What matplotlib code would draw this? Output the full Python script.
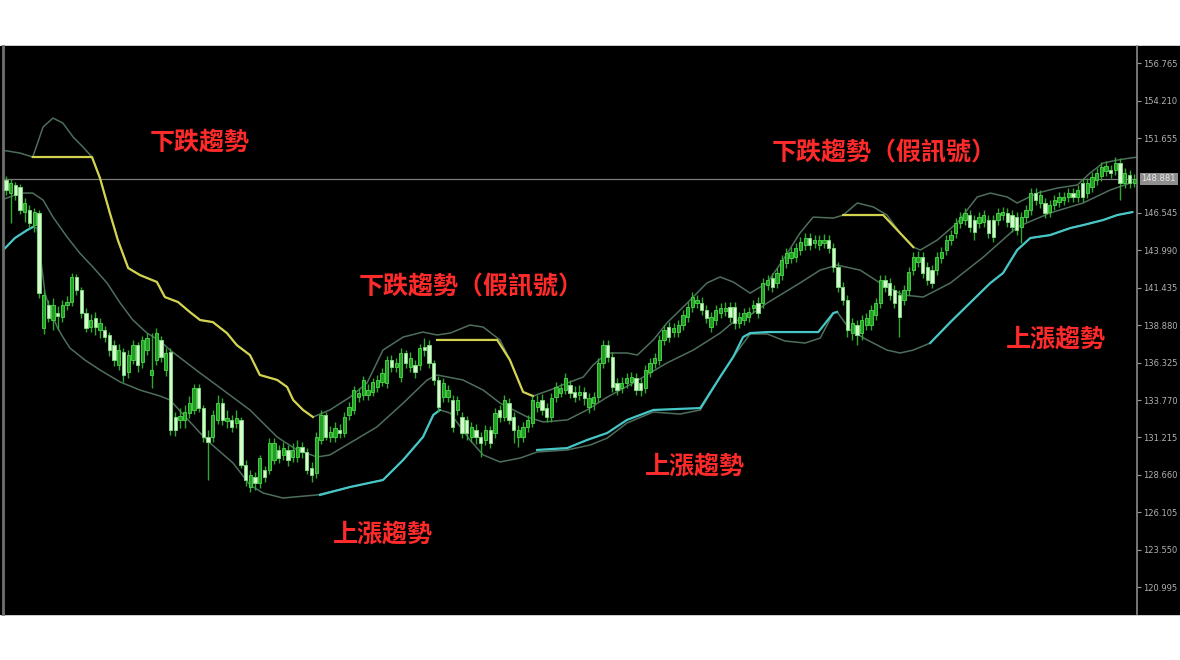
import numpy as np
import matplotlib.pyplot as plt
from matplotlib.patches import Rectangle

# daily candles (price units)
opens = [148.79, 147.90, 148.45, 148.31, 146.60, 146.74, 145.71, 146.53, 138.69, 140.25,
         139.23, 139.71, 139.43, 140.25, 140.46, 142.17, 141.28, 139.71, 138.76, 139.37,
         138.55, 138.55, 138.21, 137.52, 136.16, 137.05, 135.68, 136.50, 137.52, 136.36,
         137.18, 135.48, 136.50, 137.87, 135.82, 137.05, 132.61, 132.41, 132.41, 132.88,
         133.09, 134.59, 133.22, 131.24, 131.24, 132.41, 133.56, 132.34, 132.41, 132.20,
         132.41, 129.33, 127.83, 128.51, 128.10, 128.99, 128.99, 129.68, 130.36, 130.02,
         130.36, 129.88, 129.88, 130.56, 130.22, 129.13, 128.79, 131.04, 132.75, 131.24,
         131.24, 131.72, 131.52, 132.75, 133.09, 133.97, 134.11, 134.11, 134.32, 134.66,
         135.00, 134.93, 136.50, 136.02, 135.34, 136.98, 136.02, 136.16, 136.16, 137.39,
         137.52, 136.30, 135.14, 133.97, 133.97, 133.77, 133.09, 132.61, 132.41, 131.24,
         131.72, 131.24, 131.04, 131.72, 131.52, 133.09, 132.61, 133.56, 132.61, 131.24,
         131.24, 131.93, 132.20, 133.29, 133.77, 133.22, 132.61, 133.97, 134.25, 134.45,
         134.80, 134.32, 134.11, 134.32, 133.29, 133.56, 133.97, 136.30, 137.52, 136.70,
         134.93, 134.59, 134.93, 135.00, 135.27, 134.93, 134.59, 135.68, 136.30, 136.50,
         137.87, 138.76, 138.41, 138.41, 138.89, 139.43, 140.12, 140.39, 140.39, 139.91,
         138.76, 139.23, 139.71, 139.84, 140.12, 140.12, 139.03, 139.23, 139.43, 140.05,
         140.39, 140.39, 141.62, 142.10, 141.75, 142.30, 143.12, 143.46, 143.53, 144.01,
         144.35, 144.83, 144.49, 144.35, 144.49, 144.69, 144.15, 142.85, 141.48, 140.60,
         138.34, 138.89, 138.34, 138.89, 138.89, 139.57, 140.39, 141.96, 141.75, 141.28,
         140.94, 140.60, 141.28, 142.64, 143.19, 143.53, 142.85, 142.64, 142.64, 143.46,
         144.01, 144.69, 145.17, 145.85, 146.06, 146.40, 146.06, 145.85, 145.92, 146.06,
         146.06, 146.06, 146.40, 146.53, 146.40, 146.26, 145.58, 146.26, 146.74, 147.90,
         147.22, 147.22, 146.60, 147.08, 147.28, 147.42, 147.63, 147.90, 147.63, 148.58,
         147.90, 148.31, 148.79, 149.06, 149.40, 149.47, 149.47, 149.94, 148.58, 149.13,
         148.58]
highs = [149.06, 148.85, 148.65, 148.52, 147.56, 147.08, 146.88, 146.74, 141.28, 140.60,
         140.73, 140.19, 140.60, 140.87, 142.44, 142.37, 141.48, 140.05, 139.64, 139.78,
         139.37, 138.82, 138.41, 137.87, 137.59, 137.32, 137.18, 137.87, 137.73, 138.14,
         138.34, 138.34, 138.69, 138.14, 137.32, 137.32, 132.95, 133.22, 133.43, 134.04,
         134.86, 134.86, 133.43, 131.72, 133.09, 134.11, 133.90, 133.09, 132.75, 133.09,
         132.61, 129.68, 128.99, 128.86, 130.02, 129.27, 131.17, 131.17, 130.70, 130.90,
         130.70, 130.84, 131.04, 130.90, 130.50, 129.54, 131.58, 133.09, 132.95, 132.00,
         132.27, 132.13, 132.95, 133.63, 134.73, 134.59, 135.41, 134.86, 135.27, 135.48,
         135.95, 136.77, 136.84, 136.63, 137.32, 137.18, 137.05, 136.50, 137.59, 138.00,
         137.87, 136.50, 135.41, 135.27, 134.80, 134.11, 134.04, 132.95, 132.68, 132.27,
         132.13, 131.58, 132.07, 132.00, 133.22, 133.43, 134.11, 133.90, 132.95, 132.07,
         132.27, 132.75, 134.04, 134.11, 134.18, 133.56, 134.25, 135.00, 134.93, 135.61,
         135.14, 134.73, 134.80, 134.66, 134.25, 134.32, 136.63, 137.87, 137.87, 137.05,
         135.27, 135.34, 135.61, 135.68, 135.61, 135.27, 136.16, 136.63, 136.98, 138.21,
         138.89, 139.09, 139.03, 139.23, 139.91, 140.46, 141.14, 140.94, 140.80, 140.25,
         139.78, 140.25, 140.39, 140.46, 140.46, 140.46, 139.78, 140.05, 140.12, 140.60,
         140.80, 142.10, 142.30, 142.44, 142.78, 143.67, 144.15, 144.21, 144.49, 144.90,
         145.17, 145.17, 145.03, 145.03, 145.10, 145.03, 144.49, 143.19, 141.82, 140.94,
         139.37, 139.23, 139.57, 139.71, 140.25, 140.73, 142.30, 142.30, 142.10, 141.62,
         141.28, 141.62, 142.85, 143.87, 143.94, 143.87, 143.19, 142.98, 143.87, 144.21,
         145.03, 145.37, 146.19, 146.60, 146.88, 146.74, 146.40, 146.60, 146.74, 146.40,
         146.40, 146.88, 146.94, 146.88, 146.74, 146.60, 146.60, 147.08, 148.24, 148.24,
         148.11, 147.56, 147.42, 147.76, 147.97, 147.97, 148.24, 148.24, 148.45, 148.92,
         148.92, 149.33, 149.60, 150.01, 150.08, 149.81, 150.35, 150.28, 149.60, 149.47,
         149.20]
lows = [147.76, 145.85, 147.42, 146.47, 145.92, 145.51, 145.24, 140.73, 138.28, 139.09,
        138.55, 138.55, 139.09, 139.91, 140.19, 140.94, 139.37, 138.41, 138.41, 138.21,
        138.00, 137.73, 136.77, 136.09, 135.82, 135.00, 135.27, 136.23, 135.68, 135.95,
        136.84, 134.59, 136.16, 136.36, 135.41, 131.38, 131.31, 131.86, 131.86, 132.54,
        132.81, 132.95, 130.90, 128.31, 130.90, 132.13, 132.07, 131.86, 131.58, 131.86,
        129.13, 127.90, 127.49, 127.63, 127.76, 128.17, 128.72, 129.40, 129.47, 129.68,
        129.27, 129.54, 129.54, 129.81, 128.72, 128.17, 128.45, 130.77, 131.04, 130.90,
        130.90, 131.17, 131.24, 132.41, 132.81, 133.63, 133.77, 133.77, 134.04, 134.32,
        134.73, 134.59, 135.68, 135.68, 135.00, 135.95, 135.68, 135.27, 135.82, 136.77,
        135.95, 134.80, 132.95, 133.63, 133.63, 131.58, 132.75, 131.17, 131.04, 130.90,
        130.77, 129.88, 130.70, 130.50, 131.17, 132.27, 132.34, 132.13, 130.84, 130.56,
        130.90, 131.58, 131.93, 132.95, 132.75, 132.27, 132.27, 133.63, 133.97, 134.18,
        133.90, 133.63, 133.77, 133.43, 132.88, 133.09, 133.63, 135.95, 136.36, 134.32,
        134.11, 134.25, 134.59, 134.73, 134.11, 134.04, 134.25, 135.34, 135.95, 136.16,
        137.52, 137.73, 138.07, 138.07, 138.55, 139.09, 139.78, 140.05, 139.57, 139.03,
        138.41, 138.89, 139.37, 139.50, 139.09, 138.62, 138.69, 138.89, 139.09, 139.71,
        139.37, 140.05, 141.28, 141.14, 141.41, 141.96, 142.78, 143.12, 143.19, 143.67,
        144.01, 144.01, 144.15, 144.01, 144.15, 143.80, 142.51, 141.14, 140.25, 138.07,
        137.87, 137.52, 137.87, 138.55, 138.55, 139.23, 140.05, 141.14, 140.60, 140.05,
        138.07, 140.25, 140.94, 142.30, 142.85, 142.10, 141.62, 141.41, 142.30, 143.12,
        143.67, 144.35, 144.83, 145.51, 145.71, 145.24, 144.69, 145.51, 145.58, 144.83,
        144.56, 145.71, 146.06, 145.58, 145.24, 145.03, 144.49, 145.92, 146.40, 147.08,
        146.88, 146.19, 146.26, 146.74, 146.94, 147.08, 147.28, 147.28, 147.28, 147.28,
        147.56, 147.97, 148.45, 148.72, 149.06, 148.92, 149.13, 147.42, 148.24, 148.24,
        148.31]
closes = [148.11, 148.58, 147.76, 146.74, 147.22, 145.85, 146.60, 141.07, 140.94, 139.37,
          140.25, 139.50, 140.25, 140.46, 142.17, 141.28, 139.71, 138.69, 139.23, 138.76,
          139.03, 138.07, 137.18, 136.50, 137.18, 135.48, 136.84, 137.52, 136.16, 137.87,
          138.00, 135.82, 138.34, 136.70, 136.98, 131.72, 131.72, 132.68, 132.95, 133.56,
          134.59, 133.22, 131.24, 130.90, 132.75, 133.56, 132.41, 132.54, 131.93, 132.54,
          129.33, 128.31, 128.65, 128.10, 129.81, 128.51, 130.84, 130.84, 129.81, 130.50,
          129.68, 130.36, 130.56, 130.22, 128.99, 128.65, 131.24, 132.75, 131.24, 131.58,
          131.86, 131.52, 132.61, 133.29, 134.45, 134.25, 135.14, 134.45, 135.00, 135.14,
          135.61, 136.50, 136.02, 136.30, 136.98, 136.30, 136.63, 135.68, 137.32, 137.18,
          136.30, 135.14, 133.29, 134.93, 134.45, 131.93, 133.77, 131.52, 131.52, 131.93,
          131.24, 130.84, 131.72, 130.84, 132.88, 132.61, 133.77, 132.41, 131.72, 131.72,
          131.93, 132.41, 133.77, 133.63, 133.09, 132.61, 133.90, 134.66, 134.59, 135.27,
          134.25, 133.97, 134.32, 133.90, 133.90, 133.97, 136.30, 137.52, 136.70, 134.66,
          134.45, 134.93, 135.27, 135.34, 134.45, 134.45, 135.82, 136.30, 136.63, 137.87,
          138.55, 138.07, 138.69, 138.89, 139.57, 140.12, 140.80, 140.60, 139.91, 139.37,
          139.43, 139.91, 140.05, 140.05, 139.43, 139.03, 139.43, 139.71, 139.78, 140.25,
          139.71, 141.75, 141.96, 141.48, 142.44, 143.33, 143.80, 143.87, 144.15, 144.56,
          144.83, 144.35, 144.69, 144.69, 144.69, 144.15, 142.85, 141.48, 140.60, 138.55,
          139.03, 138.21, 139.23, 139.37, 139.91, 140.39, 141.96, 141.48, 140.94, 140.39,
          139.43, 141.28, 142.51, 143.53, 143.53, 142.44, 141.96, 141.75, 143.53, 143.87,
          144.69, 145.03, 145.85, 146.26, 146.53, 145.58, 145.24, 146.26, 146.40, 145.17,
          144.90, 146.53, 146.60, 145.92, 145.58, 145.37, 146.26, 146.74, 147.90, 147.42,
          147.76, 146.53, 147.08, 147.42, 147.63, 147.63, 147.90, 147.63, 148.11, 147.63,
          148.58, 148.99, 149.26, 149.67, 149.74, 149.26, 149.94, 148.58, 149.26, 148.58,
          148.88]

# bollinger bands as (bar, price)
upper_band = [(-1, 150.84), (3, 150.63), (5.7, 150.36), (7.9, 152.41), (10, 153.02), (12.1, 152.68),
              (14.3, 151.72), (16.4, 151.04), (18.3, 150.36), (20, 148.92), (22.1, 146.54), (23.8, 144.69),
              (26, 142.78), (28.5, 142.30), (32.1, 141.83), (33.8, 140.80), (36.6, 140.46), (39.1, 139.78),
              (41.3, 139.23), (44, 139.09), (47, 138.34), (49.1, 137.52), (51.9, 136.84), (54, 135.48),
              (57.7, 135.14), (59.8, 134.66), (61.1, 133.77), (63.2, 133.09), (65.3, 132.61), (68.9, 133.09),
              (73.2, 133.97), (76.8, 134.93), (80.2, 137.18), (84.5, 138.07), (88.7, 138.41), (91.7, 138.21),
              (94.5, 138.34), (98.7, 138.89), (101.5, 138.75), (105.1, 137.87), (107.2, 136.50), (110, 134.32),
              (112.1, 134.04), (115.7, 134.45), (119.4, 134.93), (122.8, 135.34), (124.9, 136.16), (127.9, 136.98),
              (132.1, 136.98), (134.3, 136.84), (137.7, 137.87), (140.6, 139.03), (144.9, 140.39), (149.1, 141.76),
              (151.9, 142.17), (154.7, 141.83), (158.3, 141.07), (161.9, 141.76), (165.3, 143.33), (168.9, 145.17),
              (171.7, 146.26), (176, 146.19), (178.1, 146.40), (181.1, 147.22), (184.5, 146.95), (187.4, 146.40),
              (190.2, 145.17), (193, 144.21), (194.5, 144.01), (198.1, 144.69), (202.3, 145.85), (206.6, 147.63),
              (209.4, 147.90), (213, 147.63), (215.1, 147.22), (219.4, 147.90), (223.6, 148.24), (227.9, 148.45),
              (230.6, 149.27), (233.4, 149.95), (236.4, 150.15), (239.1, 150.29), (240.6, 150.35)]
middle_band = [(-1, 147.42), (3, 147.90), (5.7, 147.90), (7.9, 147.42), (10, 146.26), (13, 144.90),
               (15.7, 143.80), (18.5, 142.85), (21.5, 141.76), (24.3, 140.39), (27, 139.23), (30, 138.34),
               (32.8, 137.80), (34.9, 137.18), (41.3, 135.61), (46.2, 134.45), (51.9, 133.09), (57.7, 131.24),
               (61.9, 130.36), (66.2, 129.88), (68.9, 130.02), (73.2, 130.84), (78.9, 131.93), (84.5, 133.56),
               (89.6, 135.14), (91.7, 135.48), (97.2, 135.14), (101.5, 134.45), (105.1, 133.56), (110.9, 132.61),
               (114.3, 132.27), (119.4, 132.41), (123.6, 133.09), (127.9, 133.97), (133.4, 134.93), (140.6, 136.30),
               (146.2, 137.18), (151.9, 138.34), (154.7, 139.09), (158.3, 139.57), (161.9, 140.39), (168.9, 141.76),
               (173.2, 142.64), (176.8, 142.98), (181.7, 142.64), (186.6, 141.62), (190.9, 140.94), (195.1, 140.80),
               (200.9, 141.76), (207.9, 143.53), (215.1, 145.58), (222.1, 146.54), (229.1, 147.22), (234.9, 148.11),
               (239.1, 148.58), (240.6, 148.70)]
lower_band = [(-1, 143.87), (1.9, 144.83), (4.5, 145.37), (5.7, 145.58), (6.6, 145.51), (7.7, 142.64),
              (8.3, 141.07), (9.4, 139.91), (10.9, 138.75), (12.1, 138.07), (13.6, 137.32), (16.8, 136.50),
              (20, 135.82), (24.3, 135.00), (28.5, 134.45), (32.8, 134.04), (34.9, 133.77), (41.3, 131.52),
              (43.4, 130.84), (48.3, 129.47), (51.9, 127.97), (54.7, 127.42), (58.9, 127.08), (66.2, 127.29),
              (73.2, 127.83), (80.2, 128.31), (84.5, 129.68), (88.7, 131.24), (90.9, 132.75), (92.3, 133.09),
              (94.5, 132.88), (98.7, 131.04), (101.5, 130.02), (105.1, 129.54), (109.4, 129.81), (113, 130.22),
              (119.4, 130.36), (124.3, 130.70), (127.9, 131.17), (132.1, 132.20), (137.7, 132.95), (143.4, 132.81),
              (147.7, 133.09), (151.9, 135.34), (154.7, 136.71), (158.3, 138.28), (161.9, 138.28), (165.7, 137.80),
              (170, 137.66), (173.2, 138.00), (176, 139.71), (176.8, 139.78), (179.6, 138.55), (183.2, 137.87),
              (187.4, 137.18), (190.2, 136.98), (193, 137.18), (196.6, 137.66), (200.9, 139.09), (205.7, 140.60),
              (209.4, 141.76), (212.1, 142.44), (215.1, 144.01), (217.9, 144.83), (222.1, 145.03), (226.4, 145.51),
              (229.1, 145.71), (233.4, 146.06), (236.4, 146.40), (239.6, 146.60)]

# band-stop lines: yellow while falling, cyan while rising
stop_down = [
    [(5.7, 150.36), (18.3, 150.36), (20, 148.92), (22.1, 146.54), (23.8, 144.69), (26, 142.78), (28.5, 142.30),
     (32.1, 141.83), (33.8, 140.80), (36.6, 140.46), (39.1, 139.78), (41.3, 139.23), (44, 139.09), (47, 138.34),
     (49.1, 137.52), (51.9, 136.84), (54, 135.48), (57.7, 135.14), (59.8, 134.66), (61.1, 133.77), (63.2, 133.09),
     (65.3, 132.61)],
    [(91.7, 137.87), (104.5, 137.87), (107.2, 136.50), (110, 134.32), (112.1, 134.04)],
    [(178.1, 146.40), (186.6, 146.40), (190.2, 145.17), (193, 144.21)],
]
stop_up = [
    [(-1, 143.87), (1.9, 144.83), (4.5, 145.37), (5.7, 145.58)],
    [(66.8, 127.29), (73.2, 127.83), (80.2, 128.31), (84.5, 129.68), (88.7, 131.24), (90.9, 132.75), (92.3, 133.09)],
    [(113, 130.36), (119.4, 130.49), (123.6, 131.04), (127.9, 131.52), (132.1, 132.41), (137.7, 133.09),
     (147.7, 133.22), (151.9, 135.34), (154.7, 136.71), (156.8, 138.07), (158.3, 138.34), (161.9, 138.41),
     (172.8, 138.41), (176, 139.71), (176.8, 139.78)],
    [(196.6, 137.66), (200.9, 139.09), (205.7, 140.60), (209.4, 141.76), (212.1, 142.44), (215.1, 144.01),
     (217.9, 144.83), (222.1, 145.03), (226.4, 145.51), (229.1, 145.71), (233.4, 146.06), (236.4, 146.40),
     (239.6, 146.60)],
]

price_ticks = [120.995, 123.550, 126.105, 128.660, 131.215, 133.770, 136.325, 138.880,
               141.435, 143.990, 146.545, 149.100, 151.655, 154.210, 156.765]
last_price = 148.881

labels = ['下跌趨勢', '下跌趨勢（假訊號）', '上漲趨勢', '上漲趨勢', '下跌趨勢（假訊號）', '上漲趨勢']
label_at = [(41.3, 151.38), (98.9, 141.48), (80.2, 124.56), (146.6, 129.20), (186.8, 150.63), (223.4, 137.87)]

fig = plt.figure(figsize=(11.8, 6.6), dpi=100, facecolor='white')
fig.patches.append(Rectangle((0, 0.0697), 1, 0.8606, transform=fig.transFigure,
                             color='black', zorder=-5))
ax = fig.add_axes([0.0025, 0.0697, 0.9611, 0.8606])
ax.set_facecolor('black')
ax.set_xlim(-0.64, 240.6)
ax.set_ylim(119.16, 157.94)

# bands
for band in (upper_band, middle_band, lower_band):
    bx, by = zip(*band)
    ax.plot(bx, by, color='#4e6e5c', lw=1.1, zorder=2)
for seg in stop_down:
    sx, sy = zip(*seg)
    ax.plot(sx, sy, color='#d2d24e', lw=1.6, zorder=2.5)
for seg in stop_up:
    sx, sy = zip(*seg)
    ax.plot(sx, sy, color='#46c6c6', lw=1.6, zorder=2.5)

# candles
o = np.array(opens)
h = np.array(highs)
l = np.array(lows)
c = np.array(closes)
idx = np.arange(len(c))
up = c >= o
ax.vlines(idx, l, h, color='#30a830', lw=1, zorder=3)
bottom = np.minimum(o, c)
height = np.maximum(np.abs(c - o), 0.07)
ax.bar(idx[up], height[up], bottom=bottom[up], width=0.7, color='#229c22',
       edgecolor='#44cc44', lw=0.7, zorder=4)
ax.bar(idx[~up], height[~up], bottom=bottom[~up], width=0.7, color='#d8f8d0',
       edgecolor='#7ad87a', lw=0.7, zorder=4)

# current price line
ax.axhline(last_price, color='#7c7c7c', lw=0.9, zorder=1)
ax.text(1.004, last_price, f'{last_price:.3f}', transform=ax.get_yaxis_transform(),
        ha='left', va='center', fontsize=6, color='#e8e8e8', zorder=6, clip_on=False,
        bbox=dict(boxstyle='square,pad=0.2', fc='#8e8e8e', ec='none'))

# axis styling
ax.set_xticks([])
ax.yaxis.tick_right()
ax.set_yticks([t for t in price_ticks if abs(t - last_price) > 0.5])
ax.set_yticklabels([f'{t:.3f}' for t in price_ticks if abs(t - last_price) > 0.5])
ax.tick_params(axis='y', colors='#9a9a9a', labelcolor='#b0b0b0', labelsize=6,
               length=3, width=0.8, pad=1.5)
for side in ('top', 'bottom'):
    ax.spines[side].set_visible(False)
ax.spines['right'].set_color('#8a8a8a')
ax.spines['right'].set_linewidth(1.2)
ax.spines['left'].set_color('#707070')
ax.spines['left'].set_linewidth(2)

# annotations
for s, (bx, by) in zip(labels, label_at):
    ax.text(bx, by, s, color='#ff2b2b', fontsize=18, fontweight='bold',
            ha='center', va='center', zorder=7,
            family=['Noto Sans CJK TC', 'DejaVu Sans'])

fig.savefig('out.png', dpi=100, facecolor='white')
